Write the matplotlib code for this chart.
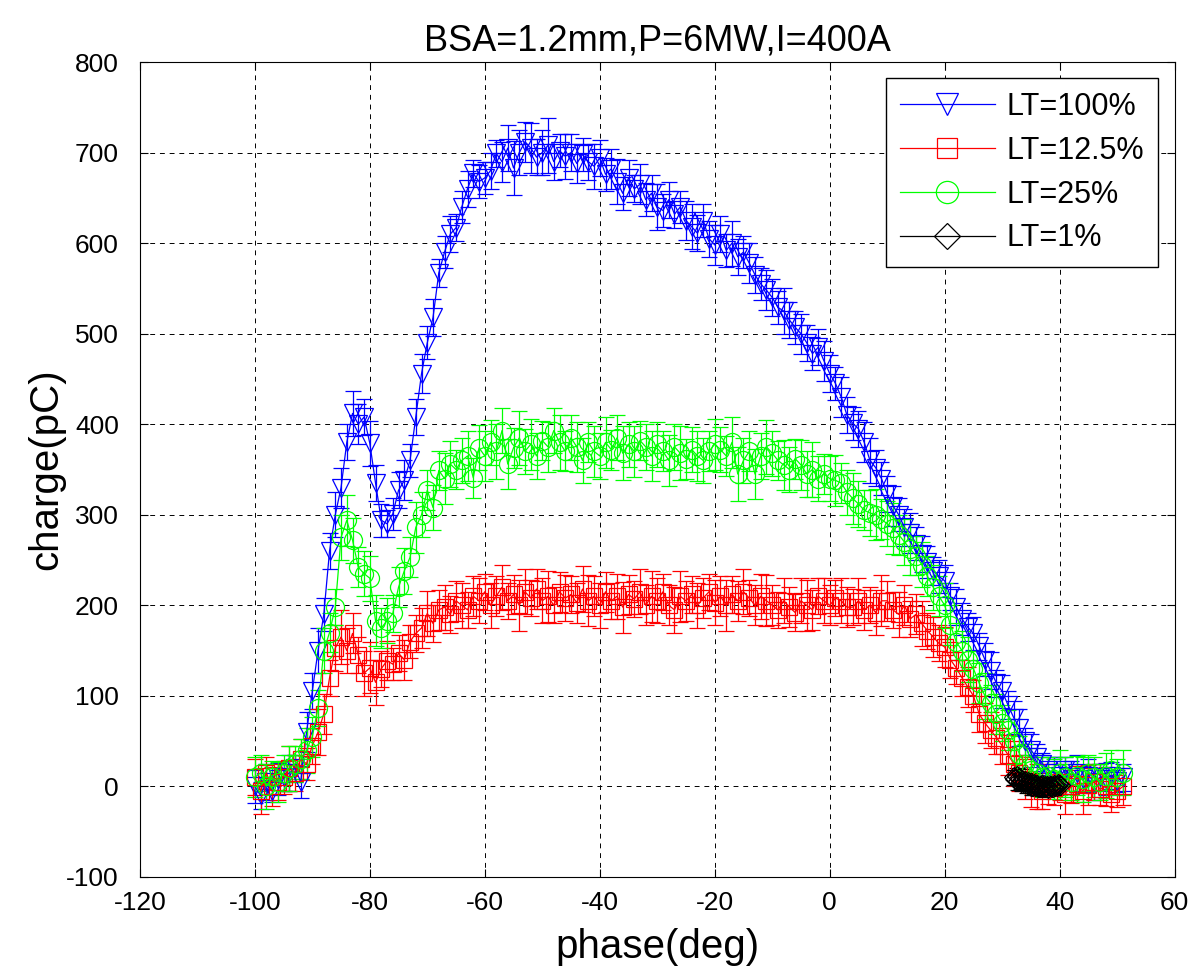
import matplotlib
matplotlib.use('Agg')
import matplotlib.pyplot as plt
from matplotlib.lines import Line2D
import numpy as np

plt.rcParams['font.family'] = ['Liberation Sans', 'DejaVu Sans']
plt.rcParams['axes.unicode_minus'] = False

# phase in deg, 1 deg steps
phase = np.arange(-100, 52)

# LT=100%
q100 = [0, -10, 5, -5, 8, 10, 15, 20, 5, 60, 105, 150, 190, 260, 300, 330, 380, 412, 400, 408,
        379, 335, 294, 290, 301, 327, 338, 360, 408, 456, 490, 518, 567, 590, 610, 617, 640, 660, 677, 668,
        672, 680, 699, 690, 705, 683, 700, 712, 705, 695, 700, 708, 690, 702, 696, 700, 688, 698, 690, 685,
        694, 676, 682, 668, 655, 672, 660, 665, 648, 655, 640, 636, 648, 632, 640, 625, 618, 611, 625, 605,
        598, 610, 592, 600, 585, 590, 578, 565, 555, 548, 540, 529, 525, 515, 507, 500, 490, 478, 485, 470,
        456, 445, 430, 410, 401, 395, 380, 360, 352, 340, 323, 310, 300, 286, 280, 268, 257, 248, 238, 232,
        227, 210, 198, 185, 176, 169, 155, 140, 128, 114, 105, 90, 76, 65, 50, 40, 32, 25, 18, 15,
        12, 18, 10, 15, 8, 12, 5, 10, 8, 12, 6, 10]
e100 = [18, 15, 20, 12, 18, 15, 20, 15, 18, 22, 20, 25, 18, 20, 25, 22, 20, 25, 22, 20,
        25, 20, 18, 15, 18, 20, 22, 18, 20, 22, 18, 20, 15, 18, 20, 15, 18, 20, 15, 18,
        18, 20, 15, 22, 25, 30, 25, 22, 28, 20, 25, 30, 20, 18, 25, 20, 22, 18, 20, 25,
        20, 18, 22, 25, 18, 20, 15, 22, 18, 20, 25, 18, 20, 15, 18, 22, 25, 20, 18, 20,
        22, 20, 18, 25, 20, 18, 22, 20, 18, 22, 20, 18, 25, 20, 18, 22, 20, 18, 20, 22,
        20, 18, 22, 20, 18, 20, 22, 25, 20, 18, 20, 22, 18, 20, 22, 18, 20, 18, 15, 18,
        18, 15, 20, 18, 15, 18, 15, 18, 20, 15, 18, 15, 18, 20, 15, 18, 15, 12, 15, 18,
        20, 15, 18, 20, 15, 18, 20, 15, 18, 15, 12, 15]

# LT=12.5%
q125 = [10, -5, 15, 0, 5, 10, 20, 15, 30, 25, 45, 60, 80, 120, 153, 165, 150, 169, 145, 125,
        131, 115, 130, 139, 135, 147, 140, 160, 169, 175, 191, 180, 195, 198, 190, 205, 200, 195, 210, 205,
        215, 200, 210, 220, 205, 212, 200, 215, 208, 218, 205, 210, 200, 215, 208, 212, 203, 218, 205, 210,
        200, 215, 205, 210, 198, 212, 207, 215, 200, 210, 205, 215, 200, 195, 210, 205, 212, 200, 208, 215,
        203, 210, 200, 212, 205, 215, 208, 200, 210, 205, 200, 195, 205, 198, 192, 205, 200, 195, 210, 205,
        200, 208, 205, 198, 198, 205, 195, 200, 192, 205, 205, 195, 190, 200, 185, 190, 180, 172, 165, 158,
        154, 140, 131, 120, 110, 100, 80, 70, 62, 54, 45, 35, 25, 15, 8, 5, 0, -5, 3, -2,
        5, -8, 0, 3, -5, 2, 5, -3, 0, -8, -5, 0]
e125 = [20, 25, 18, 22, 20, 18, 25, 20, 22, 18, 20, 25, 22, 20, 25, 30, 25, 22, 20, 25,
        28, 25, 20, 22, 18, 20, 22, 18, 20, 22, 25, 20, 22, 25, 20, 22, 25, 20, 22, 25,
        20, 25, 22, 25, 20, 22, 28, 25, 20, 22, 25, 28, 20, 22, 25, 20, 22, 25, 28, 22,
        25, 22, 20, 25, 28, 22, 20, 25, 22, 28, 25, 20, 22, 25, 28, 22, 20, 25, 22, 20,
        25, 22, 28, 20, 22, 25, 20, 22, 25, 28, 22, 20, 25, 22, 20, 25, 28, 22, 20, 25,
        22, 20, 25, 22, 20, 25, 22, 20, 25, 28, 22, 20, 25, 22, 20, 22, 25, 20, 22, 20,
        22, 20, 18, 20, 22, 18, 20, 22, 20, 18, 20, 22, 25, 20, 22, 28, 25, 20, 22, 18,
        20, 22, 18, 20, 25, 22, 20, 18, 22, 20, 18, 20]

# LT=25%
q25 = [10, 15, 0, 10, 5, 15, 20, 25, 30, 40, 55, 87, 150, 170, 198, 275, 294, 272, 242, 235,
       230, 183, 175, 183, 191, 220, 238, 253, 286, 300, 327, 308, 349, 340, 356, 350, 360, 365, 341, 374,
       365, 380, 370, 393, 356, 374, 385, 370, 378, 365, 382, 375, 393, 380, 370, 385, 375, 360, 380, 370,
       365, 380, 372, 385, 368, 378, 370, 382, 375, 365, 378, 370, 360, 375, 368, 362, 372, 365, 360, 370,
       378, 372, 365, 380, 345, 360, 370, 345, 365, 375, 368, 360, 355, 350, 362, 355, 345, 350, 340, 345,
       340, 338, 335, 325, 318, 312, 305, 302, 300, 295, 290, 285, 278, 270, 262, 255, 245, 232, 220, 210,
       200, 178, 160, 150, 140, 130, 114, 100, 92, 80, 70, 62, 50, 36, 25, 18, 15, 10, 12, 8,
       15, 10, 5, 12, 8, 15, 10, 5, 12, 18, 10, 15]
e25 = [22, 20, 25, 18, 22, 20, 25, 20, 22, 25, 22, 20, 25, 22, 20, 25, 28, 25, 22, 25,
       25, 28, 22, 25, 20, 22, 25, 22, 28, 25, 22, 25, 22, 28, 25, 22, 25, 28, 22, 25,
       28, 25, 30, 25, 28, 22, 30, 25, 28, 25, 22, 28, 25, 30, 22, 25, 28, 25, 22, 28,
       25, 28, 22, 25, 30, 25, 28, 22, 25, 28, 25, 22, 28, 25, 30, 22, 25, 28, 25, 22,
       28, 25, 22, 28, 30, 25, 22, 28, 25, 30, 25, 22, 28, 25, 22, 28, 25, 30, 25, 22,
       25, 28, 22, 25, 28, 25, 22, 25, 28, 22, 25, 28, 22, 25, 28, 22, 25, 22, 25, 22,
       25, 22, 20, 22, 25, 20, 22, 25, 20, 22, 20, 22, 25, 20, 22, 25, 20, 22, 20, 22,
       25, 22, 20, 22, 25, 20, 22, 20, 25, 22, 20, 25]

# LT=1%
phase1 = np.arange(32, 40.25, 0.25)
q1 = [10, 8, 12, 6, 9, 5, 7, 4, 6, 3, 5, 2, 4, 1, 3, 0, 2, -1, 1, 0, 2, -1, 0, 1, -2, 0,
      1, -1, 2, 0, 1, 3, 2]
e1 = [8, 6, 8, 10, 6, 8, 12, 8, 6, 10, 8, 6, 8, 10, 12, 8, 6, 10, 8, 6, 10, 8, 12, 6, 8, 10,
      8, 6, 8, 10, 6, 8, 6]

fig = plt.figure(figsize=(11.95, 9.74), dpi=100)
ax = fig.add_axes([0.117, 0.0996, 0.866, 0.8367])

series = [
    (phase, q100, e100, 'b', 'v', 13, 'LT=100%'),
    (phase, q125, e125, 'r', 's', 12, 'LT=12.5%'),
    (phase, q25, e25, '#00ff00', 'o', 13, 'LT=25%'),
    (phase1, q1, e1, 'k', 'D', 10, 'LT=1%'),
]
handles = []
for x, y, e, c, m, ms, lab in series:
    ax.errorbar(x, y, yerr=e, color=c, marker=m, ms=ms, mfc='none', mec=c, mew=0.9,
                lw=0.9, elinewidth=0.9, capsize=6, capthick=0.9)
    handles.append(Line2D([], [], color=c, marker=m, ms=ms + 3, mfc='none', mec=c,
                          mew=0.9, lw=0.9, label=lab))

ax.set_xlim(-120, 60)
ax.set_ylim(-100, 800)
ax.set_xticks(np.arange(-120, 61, 20))
ax.set_yticks(np.arange(-100, 801, 100))
ax.grid(True, color='k', linestyle=(0, (5, 5)), linewidth=0.7)
ax.tick_params(direction='in', top=True, right=True, length=6, labelsize=19, width=0.8)
ax.tick_params(axis='y', pad=15)
ax.tick_params(axis='x', pad=10)
for s in ax.spines.values():
    s.set_linewidth(0.8)

ax.set_xlabel('phase(deg)', fontsize=29)
ax.set_ylabel('charge(pC)', fontsize=29)
ax.xaxis.set_label_coords(0.5, -0.062)
ax.yaxis.set_label_coords(-0.072, 0.5)
ax.set_title('BSA=1.2mm,P=6MW,I=400A', fontsize=26, pad=8)

leg = ax.legend(handles=handles, loc='upper right', bbox_to_anchor=(0.984, 0.98), fontsize=22,
                fancybox=False, edgecolor='k', framealpha=1, borderpad=0.45, handlelength=3.1,
                handletextpad=0.4, labelspacing=0.45, borderaxespad=0)
leg.get_frame().set_linewidth(1.0)

fig.savefig('out.png', dpi=100)
